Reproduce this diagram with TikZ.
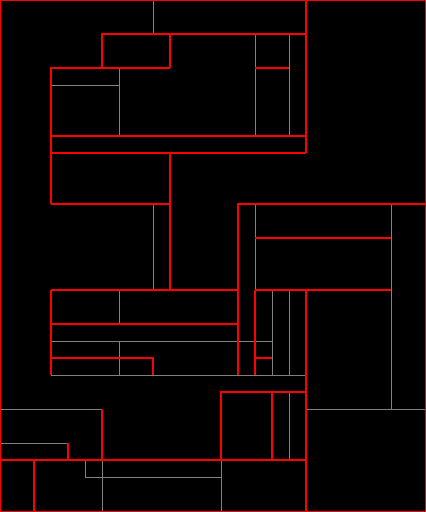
\documentclass[tikz,border=0pt]{standalone}
\begin{document}
\begin{tikzpicture}[x=1pt,y=-1pt,
  redl/.style={draw=red, line width=1.3pt},
  grayl/.style={draw=gray, line width=0.9pt}]
\useasboundingbox (0,0) rectangle (426,512);
\fill[black] (0,0) rectangle (426,512);
% inner (gray) partitions
\draw[grayl] (153,0)--(153,34);
\draw[grayl] (51,85)--(119,85);
\draw[grayl] (119,68)--(119,136);
\draw[grayl] (255,34)--(255,136);
\draw[grayl] (289,34)--(289,136);
\draw[grayl] (153,204)--(153,290);
\draw[grayl] (255,204)--(255,290);
\draw[grayl] (391,204)--(391,409);
\draw[grayl] (119,290)--(119,324);
\draw[grayl] (119,341)--(119,375);
\draw[grayl] (51,341)--(272,341);
\draw[grayl] (51,375)--(306,375);
\draw[grayl] (272,290)--(272,375);
\draw[grayl] (289,290)--(289,375);
\draw[grayl] (306,409)--(425,409);
\draw[grayl] (0,409)--(102,409);
\draw[grayl] (0,443)--(68,443);
\draw[grayl] (85,460)--(85,477)--(221,477);
\draw[grayl] (221,460)--(221,511);
\draw[grayl] (289,392)--(289,460);
\draw[grayl] (102,460)--(102,511);
% group (red) boundaries
\draw[redl] (0.7,0.7) rectangle (425.3,511.3);
\draw[redl] (306,0)--(306,153);
\draw[redl] (102,68)--(102,34)--(306,34);
\draw[redl] (170,34)--(170,68);
\draw[redl] (51,204)--(51,68)--(170,68);
\draw[redl] (255,68)--(289,68);
\draw[redl] (51,136)--(306,136);
\draw[redl] (51,153)--(306,153);
\draw[redl] (170,153)--(170,290);
\draw[redl] (51,204)--(170,204);
\draw[redl] (51,290)--(238,290);
\draw[redl] (51,290)--(51,375);
\draw[redl] (51,324)--(238,324);
\draw[redl] (51,358)--(153,358)--(153,375);
\draw[redl] (238,375)--(238,204)--(425,204);
\draw[redl] (255,238)--(391,238);
\draw[redl] (255,290)--(391,290);
\draw[redl] (255,290)--(255,375);
\draw[redl] (255,358)--(272,358);
\draw[redl] (306,290)--(306,511);
\draw[redl] (221,460)--(221,392)--(306,392);
\draw[redl] (272,392)--(272,460);
\draw[redl] (0,460)--(306,460);
\draw[redl] (102,409)--(102,460);
\draw[redl] (68,443)--(68,460);
\draw[redl] (34,460)--(34,511);
\end{tikzpicture}
\end{document}
